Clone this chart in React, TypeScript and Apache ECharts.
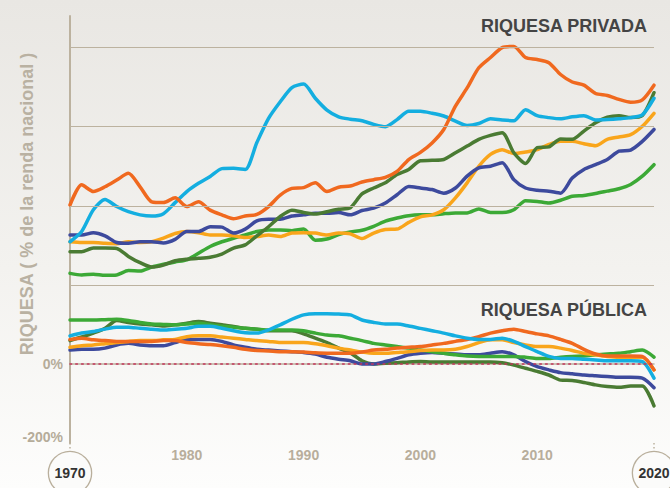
import React, { useEffect, useRef } from 'react';
import * as echarts from 'echarts';

const YEARS = [1970, 1971, 1972, 1973, 1974, 1975, 1976, 1977, 1978, 1979,
  1980, 1981, 1982, 1983, 1984, 1985, 1986, 1987, 1988, 1989,
  1990, 1991, 1992, 1993, 1994, 1995, 1996, 1997, 1998, 1999,
  2000, 2001, 2002, 2003, 2004, 2005, 2006, 2007, 2008, 2009,
  2010, 2011, 2012, 2013, 2014, 2015, 2016, 2017, 2018, 2019, 2020];

// Riquesa privada (% de la renda nacional)
const ESPANYA_PRIV = [402, 453, 436, 448, 465, 482, 448, 410, 408, 420,
  398, 410, 389, 377, 367, 374, 378, 398, 427, 444,
  446, 458, 436, 447, 450, 460, 466, 472, 487, 517,
  535, 559, 593, 652, 698, 749, 775, 800, 803, 775,
  770, 762, 732, 713, 705, 684, 679, 669, 662, 668, 705];
const JAPO_PRIV = [309, 335, 390, 416, 398, 385, 377, 374, 380, 408,
  436, 457, 474, 494, 495, 492, 560, 621, 663, 699,
  708, 672, 642, 625, 619, 615, 606, 600, 618, 639,
  639, 634, 627, 614, 603, 608, 620, 617, 615, 643,
  628, 623, 620, 625, 628, 617, 618, 620, 623, 630, 672];
const FRANCA_PRIV = [309, 307, 307, 305, 304, 309, 307, 309, 318, 330,
  335, 332, 326, 326, 324, 320, 322, 326, 322, 331,
  332, 331, 326, 331, 329, 317, 331, 340, 341, 358,
  372, 377, 390, 420, 458, 500, 530, 542, 532, 536,
  542, 555, 563, 563, 557, 552, 568, 574, 580, 601, 634];
const EUA_PRIV = [326, 326, 332, 324, 307, 305, 309, 309, 306, 315,
  335, 335, 347, 346, 331, 341, 362, 366, 366, 374,
  377, 381, 381, 383, 377, 388, 394, 407, 428, 449,
  445, 441, 432, 445, 475, 496, 500, 509, 466, 445,
  439, 437, 432, 470, 492, 504, 517, 538, 541, 563, 593];
const REGNEUNIT_PRIV = [284, 284, 293, 293, 292, 272, 256, 245, 250, 261,
  265, 267, 270, 278, 293, 301, 324, 347, 373, 389,
  383, 379, 385, 391, 395, 430, 445, 458, 479, 492,
  514, 515, 517, 534, 551, 568, 578, 585, 534, 507,
  547, 549, 569, 568, 589, 610, 624, 628, 623, 628, 686];
const ALEMANYA_PRIV = [229, 225, 227, 224, 225, 236, 235, 245, 252, 258,
  263, 280, 297, 309, 318, 326, 335, 339, 339, 337,
  341, 313, 316, 327, 334, 338, 348, 361, 369, 375,
  377, 377, 380, 382, 382, 392, 383, 383, 390, 413,
  411, 407, 414, 424, 426, 431, 437, 443, 454, 475, 504];

// Riquesa pública (% de la renda nacional)
const ESPANYA_PUB = [62, 65, 61, 59, 57, 57, 57, 57, 59, 59,
  54, 51, 49, 46, 42, 37, 34, 33, 31, 31,
  30, 28, 27, 27, 27, 30, 35, 37, 40, 42,
  44, 48, 52, 57, 62, 69, 78, 84, 88, 82,
  76, 71, 62, 52, 37, 25, 20, 20, 20, 19, -15];
const JAPO_PUB = [71, 78, 82, 88, 93, 93, 90, 88, 86, 88,
  90, 95, 95, 90, 84, 79, 78, 86, 99, 113,
  124, 127, 127, 126, 124, 111, 105, 101, 101, 96,
  90, 84, 78, 71, 65, 62, 62, 65, 57, 44,
  31, 19, 14, 14, 12, 10, 8, 8, 8, 6, -36];
const FRANCA_PUB = [42, 46, 48, 51, 54, 57, 59, 59, 61, 62,
  69, 71, 71, 68, 65, 62, 59, 57, 54, 54,
  54, 51, 46, 40, 35, 30, 27, 27, 29, 31,
  34, 35, 35, 37, 44, 54, 61, 61, 54, 48,
  44, 44, 40, 34, 27, 23, 19, 17, 17, 17, -15];
const EUA_PUB = [35, 37, 37, 40, 48, 52, 48, 46, 46, 54,
  62, 62, 62, 57, 48, 42, 37, 35, 33, 31,
  29, 25, 17, 12, 8, 0, 0, 6, 14, 23,
  27, 29, 27, 25, 23, 23, 27, 31, 23, 6,
  -7, -15, -22, -25, -28, -30, -32, -34, -34, -36, -60];
const REGNEUNIT_PUB = [59, 68, 78, 90, 110, 105, 101, 99, 96, 99,
  103, 107, 103, 99, 95, 90, 88, 84, 84, 84,
  76, 65, 54, 40, 28, 8, 0, 2, 3, 5,
  6, 5, 5, 5, 5, 5, 5, 3, -3, -11,
  -19, -28, -41, -42, -47, -53, -57, -59, -56, -56, -106];
const ALEMANYA_PUB = [111, 111, 111, 112, 113, 110, 105, 101, 100, 99,
  101, 103, 99, 95, 93, 90, 88, 86, 86, 86,
  84, 78, 73, 71, 65, 59, 52, 48, 44, 40,
  35, 31, 27, 23, 20, 19, 19, 19, 19, 17,
  14, 14, 17, 19, 20, 23, 25, 27, 31, 35, 17];

const GRID_VALUES = [200, 400, 600, 800];
const Y_LABELS: Record<number, string> = { 0: '0%', [-200]: '-200%' };
const END_YEARS = [1970, 2020];

const COLORS = {
  espanya: '#f0691f',
  japo: '#14aee0',
  franca: '#f9a51b',
  eua: '#3d4a9d',
  regneunit: '#4a7b33',
  alemanya: '#3ca936',
};

const SERIES_DEFS: [string, number[], string][] = [
  ['Alemanya privada', ALEMANYA_PRIV, COLORS.alemanya],
  ['França privada', FRANCA_PRIV, COLORS.franca],
  ['EUA privada', EUA_PRIV, COLORS.eua],
  ['Regne Unit privada', REGNEUNIT_PRIV, COLORS.regneunit],
  ['Japó privada', JAPO_PRIV, COLORS.japo],
  ['Espanya privada', ESPANYA_PRIV, COLORS.espanya],
  ['Regne Unit pública', REGNEUNIT_PUB, COLORS.regneunit],
  ['EUA pública', EUA_PUB, COLORS.eua],
  ['Alemanya pública', ALEMANYA_PUB, COLORS.alemanya],
  ['França pública', FRANCA_PUB, COLORS.franca],
  ['Espanya pública', ESPANYA_PUB, COLORS.espanya],
  ['Japó pública', JAPO_PUB, COLORS.japo],
];

const TAN = '#bcb29f';
const FONT = '"Liberation Sans", Arial, sans-serif';

export default function App() {
  const ref = useRef<HTMLDivElement>(null);

  useEffect(() => {
    if (!ref.current) return;
    const chart = echarts.init(ref.current, null, { renderer: 'svg' });

    const lineSeries: any[] = SERIES_DEFS.map(([name, vals, color]) => ({
      name,
      type: 'line',
      data: YEARS.map((y, i) => [y, vals[i]]),
      smooth: 0.25,
      showSymbol: false,
      symbol: 'none',
      z: 3,
      lineStyle: { color, width: 3.5, cap: 'round', join: 'round' },
      itemStyle: { color },
      silent: true,
    }));

    const refSeries = {
      name: 'ref',
      type: 'line',
      data: [],
      z: 1,
      silent: true,
      markLine: {
        silent: true,
        symbol: ['none', 'none'],
        label: { show: false },
        animation: false,
        data: [
          ...GRID_VALUES.map((v) => ({ yAxis: v, lineStyle: { color: TAN, width: 1, type: 'solid' } })),
          { yAxis: 0, lineStyle: { color: '#c3355b', width: 1.6, type: [1.6, 4.2], cap: 'round' } },
        ],
      },
    };

    chart.setOption({
      animation: false,
      backgroundColor: 'transparent',
      textStyle: { fontFamily: FONT },
      grid: { left: 70, right: 16, top: 16, bottom: 45, containLabel: false, outerBoundsMode: 'none' },
      xAxis: [
        {
          type: 'value',
          min: 1970,
          max: 2020,
          interval: 10,
          axisLine: { show: true, lineStyle: { color: TAN, width: 1.5 } },
          axisTick: { show: false },
          splitLine: { show: false },
          axisLabel: {
            margin: 5,
            color: '#b8ae9c',
            fontWeight: 'bold',
            fontSize: 14,
            fontFamily: FONT,
            formatter: (v: number) => (END_YEARS.includes(v) ? '' : String(v)),
          },
        },
        {
          type: 'value',
          min: 1970,
          max: 2020,
          position: 'bottom',
          axisLine: { show: false },
          splitLine: { show: false },
          axisTick: {
            show: true,
            customValues: END_YEARS,
            length: 8,
            lineStyle: { color: TAN, width: 1.5, type: [1.5, 2.5] },
          },
          axisLabel: {
            customValues: END_YEARS,
            margin: 9,
            showMinLabel: true,
            showMaxLabel: true,
            formatter: (v: number) => '{c|' + v + '}',
            rich: {
              c: {
                width: 42,
                height: 42,
                lineHeight: 42,
                borderRadius: 21,
                borderColor: '#b9af9c',
                borderWidth: 1.3,
                backgroundColor: '#fbfbfa',
                align: 'center',
                verticalAlign: 'middle',
                color: '#333333',
                fontSize: 14,
                fontWeight: 'bold',
                fontFamily: FONT,
              },
            },
          },
        },
      ],
      yAxis: {
        type: 'value',
        min: -200,
        max: 880,
        interval: 200,
        axisLine: { show: true, lineStyle: { color: TAN, width: 2 } },
        axisTick: { show: false },
        splitLine: { show: false },
        axisLabel: {
          margin: 7,
          color: '#b5ac9a',
          fontWeight: 'bold',
          fontSize: 14,
          fontFamily: FONT,
          showMaxLabel: false,
          formatter: (v: number) => {
            if (v === -200) return '{b|' + Y_LABELS[v] + '}';
            return Y_LABELS[v] ?? '';
          },
          rich: {
            b: {
              color: '#b5ac9a',
              fontWeight: 'bold',
              fontSize: 14,
              fontFamily: FONT,
              padding: [0, 0, 12, 0],
            },
          },
        },
      },
      graphic: [
        {
          type: 'text',
          x: 27,
          y: 204,
          rotation: Math.PI / 2,
          silent: true,
          style: {
            text: 'RIQUESA ( % de la renda nacional )',
            fill: '#b9b1a2',
            font: 'bold 18px ' + FONT,
            textAlign: 'center',
            textVerticalAlign: 'middle',
          },
        },
        {
          type: 'text',
          x: 647,
          y: 26,
          silent: true,
          style: {
            text: 'RIQUESA PRIVADA',
            fill: '#444444',
            font: 'bold 18px ' + FONT,
            textAlign: 'right',
            textVerticalAlign: 'middle',
          },
        },
        {
          type: 'text',
          x: 647,
          y: 310,
          silent: true,
          style: {
            text: 'RIQUESA PÚBLICA',
            fill: '#444444',
            font: 'bold 18px ' + FONT,
            textAlign: 'right',
            textVerticalAlign: 'middle',
          },
        },
      ],
      series: [refSeries, ...lineSeries],
    });

    return () => {
      chart.dispose();
    };
  }, []);

  return (
    <div
      ref={ref}
      style={{
        position: 'fixed',
        left: 0,
        top: 0,
        width: 670,
        height: 488,
        background: 'linear-gradient(to bottom, #e9e7e3 0%, #f3f2ef 55%, #fdfdfc 100%)',
      }}
    />
  );
}
